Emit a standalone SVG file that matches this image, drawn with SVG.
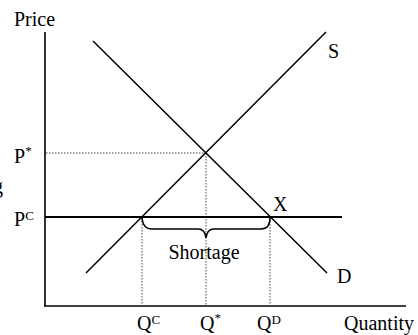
<svg xmlns="http://www.w3.org/2000/svg" width="418" height="335" viewBox="0 0 418 335">
<style>
text{font-family:"Liberation Serif","Times New Roman",serif;font-size:20px;fill:#000}
.sup{font-size:13px}
.ax{stroke:#000;stroke-width:1.6;fill:none}
.curve{stroke:#000;stroke-width:1.5;fill:none}
.dot{stroke:#444;stroke-width:1;stroke-dasharray:1.5 1.5;fill:none}
</style>
<rect width="418" height="335" fill="#fff"/>
<g id="connectors">
<line id="y-axis" class="ax" x1="45" y1="32" x2="45" y2="306"/>
<line id="x-axis" class="ax" x1="44" y1="306" x2="406" y2="306"/>
<line class="dot" x1="46" y1="153" x2="206" y2="153"/>
<line class="dot" x1="206" y1="153" x2="206" y2="305"/>
<line class="dot" x1="142" y1="218" x2="142" y2="305"/>
<line class="dot" x1="270" y1="218" x2="270" y2="305"/>
<line id="price-ceiling" stroke="#000" stroke-width="2.2" x1="45" y1="217" x2="342" y2="217"/>
<path id="brace" class="curve" stroke-width="1.3" d="M142,218 Q143,229 152,229 L198,229 Q205,229 206,238 Q207,229 214,229 L261,229 Q270,229 270,218"/>
</g>
<g id="supply"><line class="curve" x1="86" y1="273" x2="326" y2="32"/><text x="328" y="58">S</text></g>
<g id="demand"><line class="curve" x1="93" y1="41" x2="327" y2="273"/><text x="337" y="283">D</text></g>
<g id="point-x"><text x="273" y="211">X</text></g>
<g id="labels">
<text x="14" y="26">Price</text>
<text x="-7" y="193">g</text>
<text x="14" y="163">P<tspan class="sup" dy="-8">*</tspan></text>
<text x="14" y="226">P<tspan class="sup" dy="-6">C</tspan></text>
<text x="137" y="330">Q<tspan class="sup" dy="-6">C</tspan></text>
<text x="200" y="330">Q<tspan class="sup" dy="-8">*</tspan></text>
<text x="257" y="330">Q<tspan class="sup" dy="-6">D</tspan></text>
<text x="344" y="330">Quantity</text>
<text x="204" y="259" text-anchor="middle">Shortage</text>
</g>
</svg>
